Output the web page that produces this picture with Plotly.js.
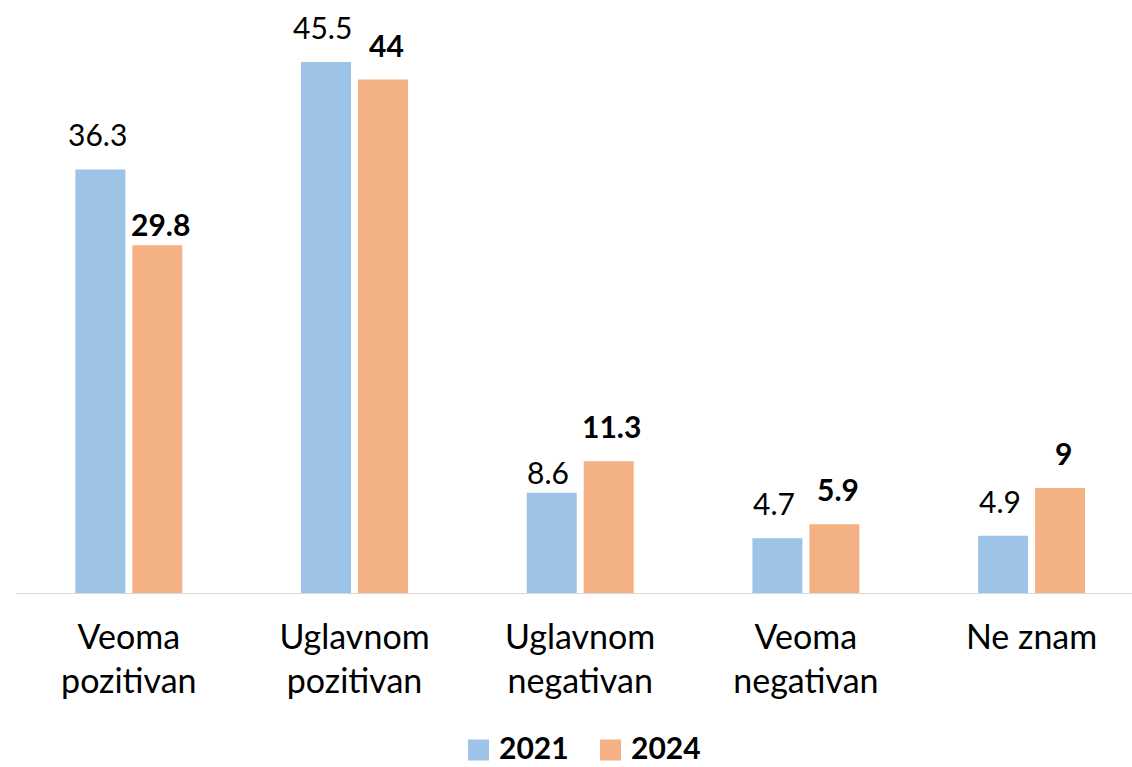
<!DOCTYPE html>
<html>
<head>
<meta charset="utf-8">
<script src="https://cdn.plot.ly/plotly-3.0.1.min.js"></script>
<style>html,body{margin:0;padding:0;background:#fff;}#chart{width:1132px;height:767px;}</style>
</head>
<body>
<div id="chart"></div>
<script>
const categories = ["Veoma<br>pozitivan", "Uglavnom<br>pozitivan", "Uglavnom<br>negativan", "Veoma<br>negativan", "Ne znam"];
const seriesNames = ["2021", "2024"];
const values2021 = [36.3, 45.5, 8.6, 4.7, 4.9];
const values2024 = [29.8, 44, 11.3, 5.9, 9];

const colors = ["#9DC3E6", "#F4B183"];
const FONT = "Lato, 'Open Sans', sans-serif";
const allValues = [values2021, values2024];
const boldLabel = [false, true];
const groupOffset = [-0.1407, 0.1407];
// a couple of labels sit closer to their bars in the original
const lowered = { "1|0": true, "0|2": true };

// plot area geometry (pixels) used for the hand-built legend
const PL = 16, PW = 1116, PB = 593, PH = 583;
const px2x = p => (p - PL) / PW;
const px2y = p => (PB - p) / PH;

const traces = allValues.map((vals, i) => ({
  type: "bar",
  x: categories,
  y: vals,
  name: seriesNames[i],
  marker: { color: colors[i] },
  showlegend: false,
  hoverinfo: "x+y"
}));

const annotations = [];
allValues.forEach((vals, i) => {
  vals.forEach((v, j) => {
    const txt = boldLabel[i] ? "<b>" + v + "</b>" : String(v);
    annotations.push({
      xref: "x", yref: "y",
      x: j + groupOffset[i],
      y: v,
      text: txt,
      showarrow: false,
      yanchor: "bottom",
      yshift: lowered[i + "|" + j] ? 1 : 15,
      font: { family: FONT, size: 30, color: "#000" }
    });
  });
});

// legend: square swatches + bold labels
const shapes = [];
const legendStart = [468, 600];
const swatchMidY = 750;
seriesNames.forEach((n, i) => {
  const s = legendStart[i];
  shapes.push({
    type: "rect", xref: "paper", yref: "paper",
    x0: px2x(s), x1: px2x(s + 21),
    y0: px2y(swatchMidY + 10.5), y1: px2y(swatchMidY - 10.5),
    fillcolor: colors[i], line: { width: 0 }
  });
  annotations.push({
    xref: "paper", yref: "paper",
    x: px2x(s + 29), y: px2y(767),
    xanchor: "left", yanchor: "bottom",
    text: "<b>" + n + "</b>",
    showarrow: false,
    font: { family: FONT, size: 30, color: "#000" }
  });
});

const layout = {
  width: 1132,
  height: 767,
  margin: { l: PL, r: 0, t: 10, b: 174, pad: 0, autoexpand: false },
  paper_bgcolor: "#fff",
  plot_bgcolor: "#fff",
  barmode: "group",
  bargap: 0.495,
  bargroupgap: 0.123,
  font: { family: FONT, color: "#000" },
  xaxis: {
    type: "category",
    range: [-0.5, 4.445],
    showline: true,
    linecolor: "#d9d9d9",
    linewidth: 1,
    ticks: "",
    showgrid: false,
    zeroline: false,
    tickfont: { family: FONT, size: 34, color: "#000" },
    ticklabelstandoff: 14,
    fixedrange: true
  },
  yaxis: {
    range: [0, 49.96],
    visible: false,
    showgrid: false,
    zeroline: false,
    fixedrange: true
  },
  showlegend: false,
  shapes: shapes,
  annotations: annotations
};

Plotly.newPlot("chart", traces, layout, { displayModeBar: false, staticPlot: true });
</script>
</body>
</html>
